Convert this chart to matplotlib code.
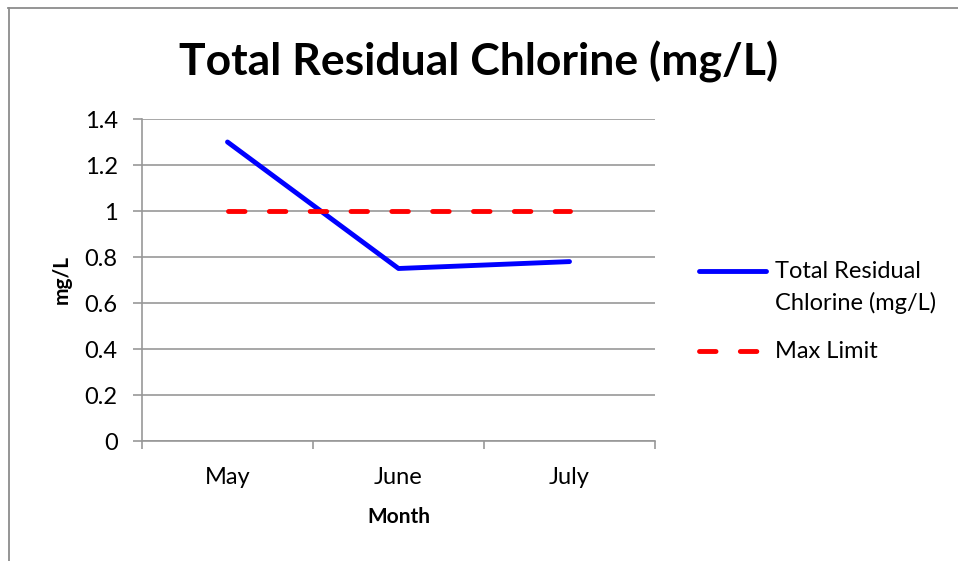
import matplotlib
matplotlib.use("Agg")
import matplotlib.pyplot as plt
from matplotlib.lines import Line2D
import numpy as np

months = ["May", "June", "July"]
chlorine = [1.30, 0.75, 0.78]
max_limit = [1.0, 1.0, 1.0]
y_ticks = [0, 0.2, 0.4, 0.6, 0.8, 1.0, 1.2, 1.4]
y_tick_labels = ["0", "0.2", "0.4", "0.6", "0.8", "1", "1.2", "1.4"]

FONT = "Lato"
plt.rcParams["font.family"] = [FONT, "DejaVu Sans"]
FS = 17
FSB = 15
LW = 3.5
DASH = (3.4, 5.0)

W, H = 958, 561
fig = plt.figure(figsize=(W / 100, H / 100), dpi=100)
fig.patch.set_facecolor("white")

ax = fig.add_axes([142 / W, 1 - 441 / H, (655 - 142) / W, (441 - 119) / H])

x = np.arange(len(months))
ax.plot(x, chlorine, color="#0000FF", lw=LW, solid_capstyle="round",
        solid_joinstyle="round", zorder=3)
ax.plot(x, max_limit, color="#FF0000", lw=LW, dash_capstyle="round",
        dashes=DASH, zorder=4)

ax.set_xlim(-0.5, len(months) - 0.5)
ax.set_ylim(0, 1.4)

grid_c = "#989898"
ax.set_yticks(y_ticks)
ax.set_yticklabels(y_tick_labels)
ax.yaxis.grid(True, color=grid_c, lw=1.2)
ax.set_axisbelow(True)

ax.set_xticks(x)
ax.set_xticklabels(months)
ax.set_xticks(np.arange(len(months) + 1) - 0.5, minor=True)
ax.tick_params(axis="x", which="major", length=0, pad=19, labelsize=FS)
ax.tick_params(axis="x", which="minor", length=6, color=grid_c, width=1.2)
ax.tick_params(axis="y", length=6.5, pad=11, color=grid_c, width=1.2, labelsize=FS)

for s in ["top", "right"]:
    ax.spines[s].set_visible(False)
for s in ["left", "bottom"]:
    ax.spines[s].set_color(grid_c)
    ax.spines[s].set_linewidth(1.2)

ax.set_xlabel("Month", fontsize=FSB, fontweight="bold")
ax.xaxis.set_label_coords(0.5, -(517 - 441) / (441 - 119), transform=ax.transAxes)
ax.xaxis.label.set_va("center")
ax.set_ylabel("mg/L", fontsize=FSB, fontweight="bold")
ax.yaxis.set_label_coords((62 - 142) / (655 - 142), 0.5, transform=ax.transAxes)
ax.yaxis.label.set_va("center")

fig.text(479 / W, 1 - 62 / H, "Total Residual Chlorine (mg/L)", ha="center",
         va="center", fontsize=32, fontweight="bold")

# legend (manual, Excel-style)
def fx(px):
    return px / W

def fy(py):
    return 1 - py / H

fig.add_artist(Line2D([fx(699), fx(766)], [fy(271), fy(271)], color="#0000FF",
                      lw=LW, solid_capstyle="round", transform=fig.transFigure))
fig.add_artist(Line2D([fx(699), fx(766)], [fy(351), fy(351)], color="#FF0000",
                      lw=LW, dash_capstyle="round", dashes=DASH,
                      transform=fig.transFigure))
fig.text(fx(775), fy(272), "Total Residual", ha="left", va="center", fontsize=FS)
fig.text(fx(775), fy(303), "Chlorine (mg/L)", ha="left", va="center", fontsize=FS)
fig.text(fx(775), fy(351), "Max Limit", ha="left", va="center", fontsize=FS)

# chart border (top and left visible)
bc = "#8c8c8c"
fig.add_artist(Line2D([fx(8), 1], [fy(7.5), fy(7.5)], color=bc, lw=1.3,
                      transform=fig.transFigure))
fig.add_artist(Line2D([fx(8.5), fx(8.5)], [fy(7.5), 0], color=bc, lw=1.3,
                      transform=fig.transFigure))

fig.savefig("out.png", dpi=100)
